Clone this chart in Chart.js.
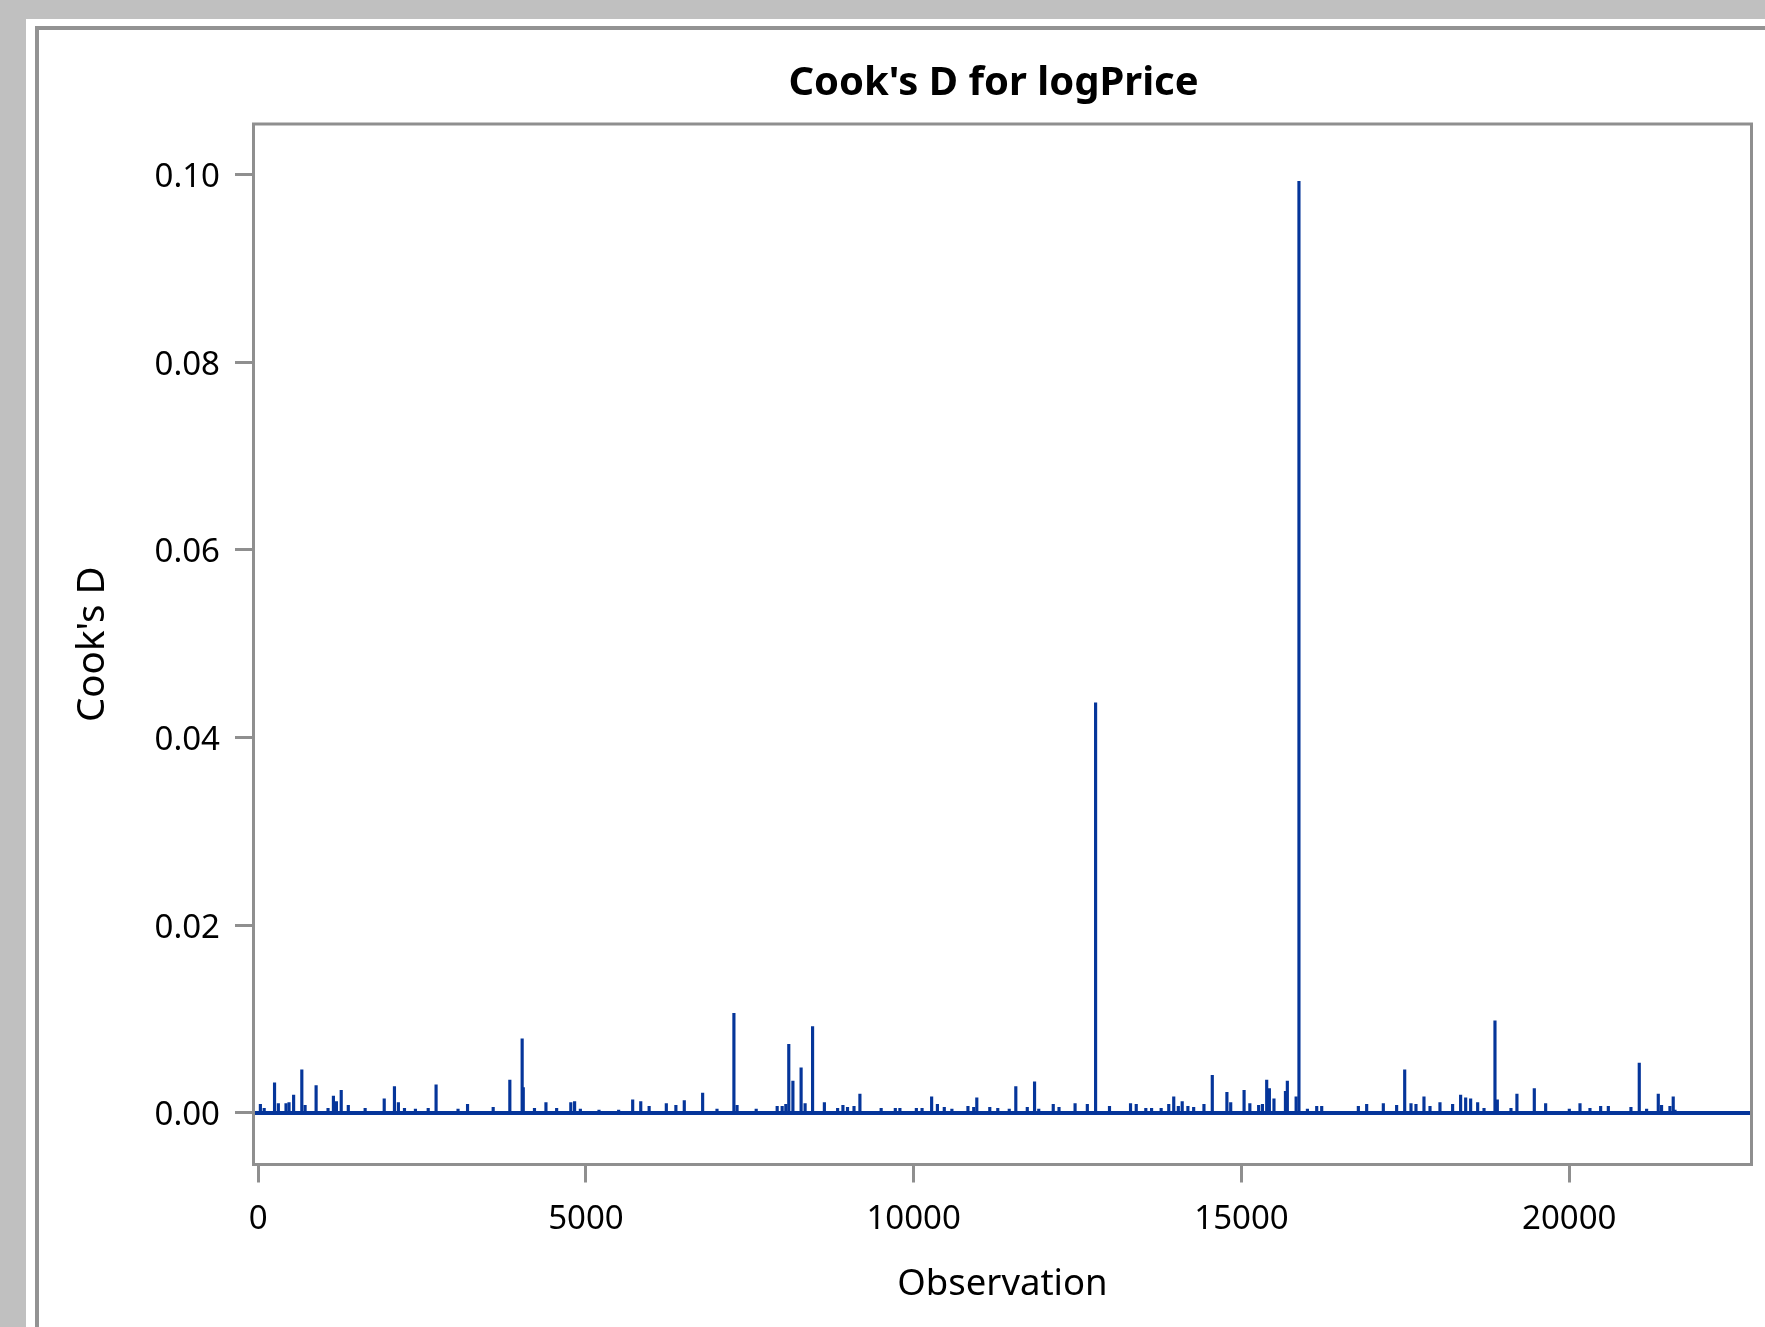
<!DOCTYPE html>
<html>
<head>
<meta charset="utf-8">
<script src="https://cdn.jsdelivr.net/npm/chart.js@4.4.1/dist/chart.umd.min.js"></script>
<style>
html,body{margin:0;padding:0;background:#c0c0c0;overflow:hidden;width:1765px;height:1327px;}
#panel{position:absolute;left:26px;top:19px;width:1800px;height:1400px;background:#ffffff;}
#frame{position:absolute;left:35px;top:26px;width:1800px;height:1400px;border-left:4px solid #939393;border-top:4px solid #939393;}
#c{position:absolute;left:0;top:0;}
</style>
</head>
<body>
<div id="panel"></div>
<div id="frame"></div>
<canvas id="c" width="1765" height="1327"></canvas>
<script>
// ---- data (observation number, Cook's D) ----
const observations = [
  35, 93, 251, 309, 426, 472, 542, 667, 717, 885, 1067, 1149, 1195, 1268, 1376, 1633, 1924, 2080, 2140, 2233,
  2400, 2595, 2715, 3050, 3195, 3586, 3840, 4028, 4045, 4216, 4391, 4554, 4770, 4828, 4916, 5200, 5500, 5714, 5837, 5965,
  6227, 6373, 6501, 6781, 7000, 7258, 7306, 7598, 7918, 7994, 8050, 8095, 8158, 8283, 8344, 8458, 8638, 8840, 8921, 8991,
  9090, 9180, 9504, 9720, 9790, 10041, 10128, 10274, 10362, 10467, 10583, 10828, 10916, 10963, 11161, 11283, 11458, 11558, 11733, 11844,
  11908, 12129, 12217, 12462, 12649, 12775, 12987, 13308, 13395, 13541, 13629, 13775, 13891, 13967, 14037, 14096, 14183, 14271, 14428, 14555,
  14778, 14836, 15040, 15128, 15262, 15320, 15385, 15426, 15496, 15671, 15700, 15834, 15877, 16006, 16148, 16224, 16783, 16910, 17164, 17367,
  17490, 17586, 17662, 17784, 17876, 18028, 18221, 18343, 18420, 18496, 18603, 18700, 18867, 18903, 19111, 19202, 19467, 19640, 20001, 20164,
  20316, 20479, 20596, 20941, 21068, 21180, 21358, 21408, 21536, 21586, 21613
];
const cooksD = [
  0.0009, 0.0005, 0.0032, 0.0010, 0.0010, 0.0011, 0.0019, 0.0046, 0.0008, 0.0029, 0.0005, 0.0018, 0.0012, 0.0024, 0.0008, 0.0005, 0.0015, 0.0028, 0.0011, 0.0005,
  0.0004, 0.0005, 0.0030, 0.0004, 0.0009, 0.0006, 0.0035, 0.0079, 0.0027, 0.0005, 0.0011, 0.0005, 0.0011, 0.0012, 0.0004, 0.0003, 0.0003, 0.0014, 0.0012, 0.0007,
  0.0010, 0.0008, 0.0013, 0.0021, 0.0004, 0.0106, 0.0008, 0.0004, 0.0007, 0.0007, 0.0009, 0.0073, 0.0034, 0.0048, 0.0010, 0.0092, 0.0011, 0.0005, 0.0008, 0.0006,
  0.0007, 0.0020, 0.0005, 0.0005, 0.0005, 0.0005, 0.0005, 0.0017, 0.0009, 0.0006, 0.0004, 0.0007, 0.0006, 0.0016, 0.0006, 0.0005, 0.0004, 0.0028, 0.0006, 0.0033,
  0.0004, 0.0009, 0.0006, 0.0010, 0.0009, 0.0437, 0.0007, 0.0010, 0.0009, 0.0005, 0.0005, 0.0005, 0.0009, 0.0017, 0.0007, 0.0012, 0.0007, 0.0006, 0.0009, 0.0040,
  0.0022, 0.0011, 0.0024, 0.0010, 0.0008, 0.0009, 0.0035, 0.0026, 0.0015, 0.0023, 0.0034, 0.0017, 0.0993, 0.0004, 0.0007, 0.0007, 0.0007, 0.0009, 0.0010, 0.0008,
  0.0046, 0.0010, 0.0009, 0.0017, 0.0007, 0.0011, 0.0009, 0.0019, 0.0016, 0.0015, 0.0011, 0.0005, 0.0098, 0.0014, 0.0005, 0.0020, 0.0026, 0.0010, 0.0004, 0.0010,
  0.0005, 0.0007, 0.0007, 0.0006, 0.0053, 0.0004, 0.0020, 0.0008, 0.0007, 0.0017, 0.0003
];
const xTickValues = [0, 5000, 10000, 15000, 20000];
const yTickValues = [0, 0.02, 0.04, 0.06, 0.08, 0.10];
const xRange = [-70, 22780];
const yRange = [-0.0055, 0.1054];
const baselineValue = 0;

const titleText = "Cook's D for logPrice";
const xTitleText = "Observation";
const yTitleText = "Cook's D";

// ---- styles ----
const needleColor = '#05359a';
const axisGray = '#8f8f8f';
Chart.defaults.font.family = "'Noto Sans', 'DejaVu Sans', sans-serif";
Chart.defaults.color = '#000';

const needlePoints = observations.map((o, i) => ({x: o, y: cooksD[i]}));
const baselinePoints = xRange.map(v => ({x: v, y: baselineValue}));

const framePlugin = {
  id: 'plotFrame',
  afterLayout(chart) {
    // centre the title over the whole graph panel rather than the plot area
    if (chart.titleBlock) { chart.titleBlock.left -= 9; chart.titleBlock.right -= 9; }
  },
  afterDatasetsDraw(chart) {
    const {ctx, chartArea: a} = chart;
    ctx.save();
    ctx.strokeStyle = axisGray;
    ctx.lineWidth = 3;
    ctx.strokeRect(a.left, a.top, a.right - a.left, a.bottom - a.top);
    ctx.restore();
  }
};

new Chart(document.getElementById('c'), {
  type: 'bar',
  data: {
    datasets: [
      {
        type: 'bar',
        data: needlePoints,
        backgroundColor: needleColor,
        borderWidth: 0,
        barThickness: 2.5,
        order: 2
      },
      {
        type: 'line',
        data: baselinePoints,
        borderColor: needleColor,
        borderWidth: 4,
        pointRadius: 0,
        order: 1
      }
    ]
  },
  options: {
    responsive: false,
    animation: false,
    events: [],
    layout: {padding: {left: 70, right: 13.5, top: 0, bottom: 0}},
    plugins: {
      legend: {display: false},
      tooltip: {enabled: false},
      title: {
        display: true,
        text: titleText,
        fullSize: false,
        font: {size: 40, weight: 'bold'},
        color: '#000',
        padding: {top: 60, bottom: 16}
      }
    },
    scales: {
      x: {
        type: 'linear',
        min: xRange[0],
        max: xRange[1],
        offset: false,
        border: {display: false},
        grid: {offset: false, drawOnChartArea: false, drawTicks: true, tickLength: 18, lineWidth: 3, color: axisGray},
        ticks: {font: {size: 33}, color: '#000', padding: 17, maxRotation: 0, autoSkip: false,
                callback: v => String(v)},
        afterBuildTicks: s => { s.ticks = xTickValues.map(v => ({value: v})); },
        afterFit: s => { s.height = 162.5; },
        title: {display: true, text: xTitleText, font: {size: 36.5}, color: '#000', padding: {top: 0, bottom: 20}}
      },
      y: {
        type: 'linear',
        min: yRange[0],
        max: yRange[1],
        border: {display: false},
        grid: {drawOnChartArea: false, drawTicks: true, tickLength: 18.5, lineWidth: 3, color: axisGray},
        ticks: {font: {size: 33}, color: '#000', padding: 15, labelOffset: 3, callback: v => Number(v).toFixed(2)},
        afterBuildTicks: s => { s.ticks = yTickValues.map(v => ({value: v})); },
        afterFit: s => { s.width = 183.5; },
        title: {display: true, text: yTitleText, font: {size: 38.5}, color: '#000', padding: {top: 0, bottom: 0}}
      }
    }
  },
  plugins: [framePlugin]
});
</script>
</body>
</html>
